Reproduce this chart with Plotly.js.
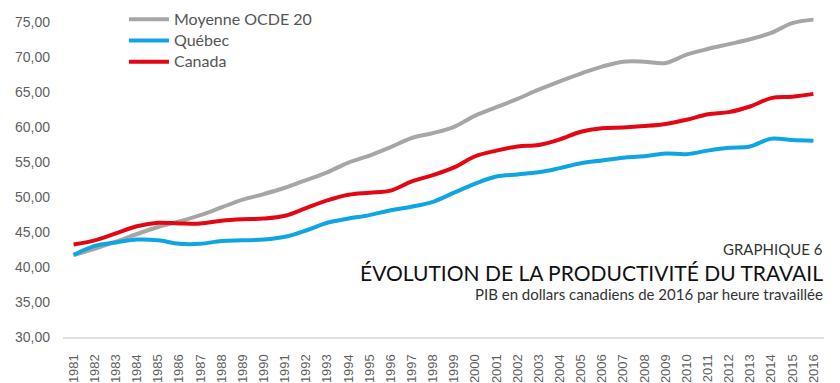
<!DOCTYPE html>
<html>
<head>
<meta charset="utf-8">
<script src="https://cdn.plot.ly/plotly-3.0.1.min.js"></script>
<style>html,body{margin:0;padding:0;background:#fff;}#chart{width:840px;height:383px;}</style>
</head>
<body>
<div id="chart"></div>
<script>
const years = ["1981","1982","1983","1984","1985","1986","1987","1988","1989","1990","1991","1992","1993","1994","1995","1996","1997","1998","1999","2000","2001","2002","2003","2004","2005","2006","2007","2008","2009","2010","2011","2012","2013","2014","2015","2016"];
const ocde = [41.7,42.6,43.6,44.7,45.7,46.5,47.4,48.5,49.6,50.4,51.3,52.4,53.5,54.9,55.9,57.1,58.4,59.1,60.0,61.6,62.8,64.0,65.3,66.5,67.6,68.6,69.3,69.3,69.1,70.3,71.1,71.8,72.5,73.4,74.8,75.3];
const quebec = [41.7,43.0,43.5,43.9,43.8,43.3,43.3,43.7,43.8,43.9,44.3,45.2,46.3,46.9,47.4,48.1,48.6,49.3,50.6,51.9,52.9,53.2,53.5,54.1,54.8,55.2,55.6,55.8,56.2,56.1,56.6,57.0,57.2,58.3,58.1,58.0];
const canada = [43.2,43.8,44.8,45.8,46.3,46.2,46.2,46.6,46.8,46.9,47.3,48.4,49.5,50.3,50.6,50.9,52.2,53.1,54.2,55.8,56.6,57.2,57.4,58.2,59.3,59.8,59.9,60.1,60.4,61.0,61.8,62.1,62.9,64.1,64.3,64.7];
const names = ["Moyenne OCDE 20","Québec","Canada"];
const colors = ["#a6a6a6","#0ea5e2","#e30613"];
const series = [ocde, quebec, canada];

const traces = series.map((s,i)=>({
  x: years, y: s, name: '<span style="font-size:16px">' + names[i] + '</span>', type: 'scatter', mode: 'lines',
  line: {color: colors[i], width: 4, shape: 'spline', smoothing: 1}
}));

const tickFont = {family: 'Liberation Sans, Arial, sans-serif', size: 14, color: '#5f5f5f'};
const layout = {
  width: 840, height: 383,
  margin: {l: 63, r: 16, t: 0, b: 46},
  paper_bgcolor: '#fff', plot_bgcolor: '#fff',
  separators: ', ',
  showlegend: true,
  legend: {x: 0.0801, y: 0.989, xanchor: 'left', yanchor: 'top', bgcolor: 'rgba(0,0,0,0)',
    font: {family: 'Lato, Noto Sans, sans-serif', size: 14, color: '#555'}, tracegroupgap: 0, itemwidth: 40},
  xaxis: {type: 'category', range: [-0.5, 35.5], tickangle: -90, tickfont: {family: 'Liberation Sans, Arial, sans-serif', size: 13, color: '#5f5f5f'},
    showgrid: false, zeroline: false, showline: true, linecolor: '#e0e0e0', linewidth: 2, ticks: '', ticklabelstandoff: 10, fixedrange: true, automargin: false},
  yaxis: {range: [30, 78.1], tickvals: [30,35,40,45,50,55,60,65,70,75], tickformat: '.2f', tickfont: tickFont,
    showgrid: false, zeroline: false, showline: false, ticks: '', ticklabelstandoff: 12, fixedrange: true, automargin: false},
  annotations: [
    {xref: 'paper', yref: 'paper', x: 1, y: 0.2315, xanchor: 'right', yanchor: 'bottom', showarrow: false, borderpad: 0,
      text: 'GRAPHIQUE 6', font: {family: 'Lato, Noto Sans, sans-serif', size: 15, color: '#333'}},
    {xref: 'paper', yref: 'paper', x: 1, y: 0.2315, xanchor: 'right', yanchor: 'top', showarrow: false, borderpad: 0,
      text: 'ÉVOLUTION DE LA PRODUCTIVITÉ DU TRAVAIL', font: {family: 'Lato, Noto Sans, sans-serif', size: 21, color: '#111'}},
    {xref: 'paper', yref: 'paper', x: 1, y: 0.1276, xanchor: 'right', yanchor: 'middle', showarrow: false, borderpad: 0,
      text: 'PIB en dollars canadiens de 2016 par heure travaillée', font: {family: 'Lato, Noto Sans, sans-serif', size: 15, color: '#333'}}
  ]
};
Plotly.newPlot('chart', traces, layout, {displayModeBar: false, staticPlot: true});
</script>
</body>
</html>
